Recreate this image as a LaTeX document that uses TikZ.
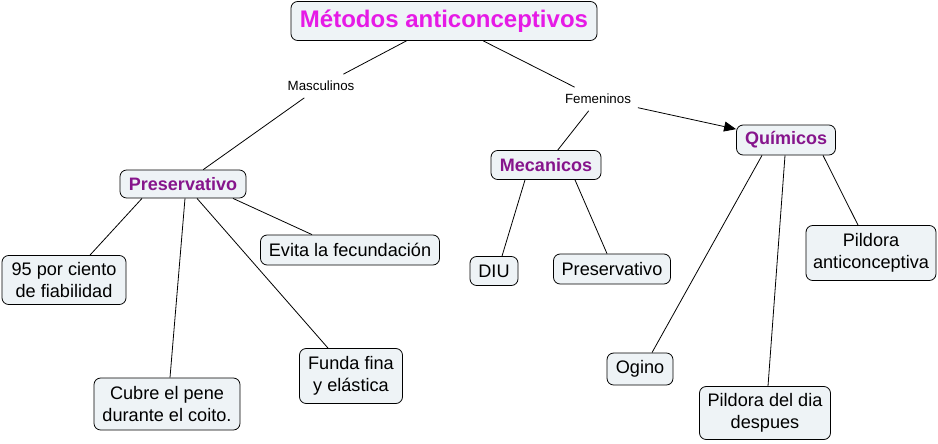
\documentclass[tikz,border=0pt]{standalone}
\usepackage{fontspec}
\setmainfont{Liberation Sans}
\usetikzlibrary{arrows.meta}
\definecolor{boxfill}{HTML}{EEF3F6}
\definecolor{titlecol}{HTML}{E61AE6}
\definecolor{headcol}{HTML}{86158C}

\begin{document}
\begin{tikzpicture}[x=0.75pt, y=-0.75pt,
  box/.style={draw, rounded corners=5pt, fill=boxfill, align=center, line width=0.6pt,
    font=\fontsize{13.6}{16.5}\selectfont, inner sep=1pt},
  head/.style={box, font=\fontsize{13.5}{16}\selectfont\bfseries, text=headcol},
  lbl/.style={font=\fontsize{10}{12}\selectfont, inner sep=5pt},
  link/.style={line width=0.6pt},
  arr/.style={link, -{Triangle[length=9pt, width=7.5pt]}}
]
\useasboundingbox (0,0) rectangle (938,443);

% title and linking words
\node[box, font=\fontsize{18}{20}\selectfont\bfseries, text=titlecol,
  minimum width=229.5pt, minimum height=29.25pt] (title) at (444,21) {Métodos anticonceptivos};
\node[lbl] (masc) at (321,86) {Masculinos};
\node[lbl] (fem) at (598,99) {Femeninos};

% concepts
\node[head, minimum width=94.5pt, minimum height=21pt] (presL) at (183,184) {Preservativo};
\node[head, minimum width=82.5pt, minimum height=21.75pt] (meca) at (546,165) {Mecanicos};
\node[head, minimum width=74.25pt, minimum height=22.5pt] (quim) at (786,140) {Químicos};

\node[box, minimum width=93pt, minimum height=36.75pt] (fiab) at (64,280) {95 por ciento\\de fiabilidad};
\node[box, minimum width=134.25pt, minimum height=22.5pt] (evita) at (350,250) {Evita la fecundación};
\node[box, minimum width=109.5pt, minimum height=39pt] (cubre) at (167,404) {Cubre el pene\\durante el coito.};
\node[box, minimum width=77.25pt, minimum height=41.25pt] (funda) at (351,376) {Funda fina\\y elástica};
\node[box, minimum width=36pt, minimum height=21.75pt] (diu) at (494,271) {DIU};
\node[box, minimum width=87.75pt, minimum height=22.5pt] (presR) at (612,269) {Preservativo};
\node[box, minimum width=49.5pt, minimum height=24pt] (ogino) at (640,369) {Ogino};
\node[box, minimum width=98.25pt, minimum height=39.75pt] (pdia) at (765,413) {Pildora del dia\\despues};
\node[box, minimum width=97.5pt, minimum height=41.25pt] (panti) at (871,253) {Pildora\\anticonceptiva};

% links
\draw[link] (title) -- (masc);
\draw[link] (masc) -- (presL);
\draw[link] (title) -- (fem);
\draw[link] (fem) -- (meca);
\draw[arr] (fem) -- (quim);

\draw[link] ([xshift=-30.75pt]presL.south) -- ([xshift=19.5pt]fiab.north);
\draw[link] ([xshift=1.5pt]presL.south) -- ([xshift=2.25pt]cubre.north);
\draw[link] ([xshift=10.5pt]presL.south) -- ([xshift=-17.25pt]funda.north);
\draw[link] ([xshift=37.5pt]presL.south) -- ([xshift=-28.5pt]evita.north);

\draw[link] ([xshift=-15.75pt]meca.south) -- ([xshift=6pt]diu.north);
\draw[link] ([xshift=21.75pt]meca.south) -- ([xshift=-3.75pt]presR.north);

\draw[link] ([xshift=-18pt]quim.south) -- ([xshift=9pt]ogino.north);
\draw[link] ([xshift=-0.75pt]quim.south) -- ([xshift=2.25pt]pdia.north);
\draw[link] ([xshift=27.75pt]quim.south) -- ([xshift=-9.75pt]panti.north);
\end{tikzpicture}
\end{document}
